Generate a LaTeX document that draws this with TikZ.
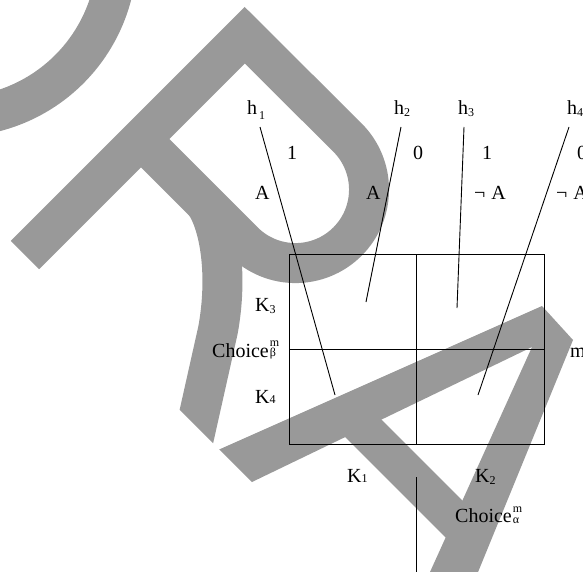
\documentclass[tikz,border=0pt]{standalone}
\usepackage{fontspec}
\setmainfont{Liberation Serif}
% small index set on the baseline, lowered, or raised
\newcommand\idx[1]{{\fontsize{12}{12}\selectfont #1}}
\newcommand\lowidx[2]{\raisebox{-#1}{\fontsize{12}{12}\selectfont #2}}
\newcommand\choicemark[3]{Choice\kern1pt\rlap{\raisebox{#1}{\fontsize{12}{12}\selectfont m}}\raisebox{#2}{\fontsize{12}{12}\selectfont #3}}
\begin{document}
\begin{tikzpicture}[x=1pt,y=-1pt,
    lbl/.style={anchor=base west,inner sep=0pt,font=\fontsize{20}{20}\selectfont},
    rule/.style={line width=0.9pt,black}]
\definecolor{wm}{gray}{0.6}
\useasboundingbox (0,0) rectangle (583,572);

% ---- watermark strokes (cut off along the common baseline) ----
\begin{scope}
  \clip (-50,180) -- (800,1030) -- (800,-50) -- (-50,-50) -- cycle;
  % bowl of the D
  \draw[wm,line width=40pt] (-46,-46) ++(-5:163) arc[start angle=-5,end angle=95,radius=163];
  % R: stem, top bar, bowl, middle bar
  \draw[wm,line width=40pt,line join=miter]
    (25,255) -- (244.75,35.25) -- (347.5,137.6)
    arc[start angle=-45,end angle=135,radius=73.5] -- (141,139);
  % R: leg
  \draw[wm,line width=40pt] (205,203) .. controls (220,225) and (228,275) .. (218,330) -- (190,455);
  % A: both legs
  \fill[wm] (201.8,457.2) -- (542,306) -- (573,340) -- (466.6,600)
    -- (417.3,600) -- (532,347) -- (224,495.5) -- cycle;
  % A: crossbar
  \draw[wm,line width=38pt] (348.5,413.5) -- (470.8,535.9);
\end{scope}

% ---- labels ----
\node[lbl] (h1) at (247,115) {h\kern2pt\lowidx{5pt}{1}};
\node[lbl] (h2) at (394,115) {h\lowidx{2pt}{2}};
\node[lbl] (h3) at (458,115) {h\lowidx{2pt}{3}};
\node[lbl] (h4) at (567,115) {h\lowidx{2pt}{4}};

\node[lbl] (v1) at (287,160) {1};
\node[lbl] (v2) at (413,160) {0};
\node[lbl] (v3) at (482,160) {1};
\node[lbl] (v4) at (577,160) {0};

\node[lbl] (a1) at (255,200) {A};
\node[lbl] (a2) at (366,200) {A};
\node[lbl] (a3) at (474,200) {¬\kern6pt A};
\node[lbl] (a4) at (556,200) {¬\kern6pt A};

\node[lbl] (k3) at (255,311) {K\lowidx{2pt}{3}};
\node[lbl] (k4) at (255,403) {K\idx{4}};
\node[lbl] (k1) at (347,482) {K\idx{1}};
\node[lbl] (k2) at (475,482) {K\lowidx{2pt}{2}};

\node[lbl] (cb) at (212,357) {\choicemark{11pt}{1pt}{β}};
\node[lbl] (ca) at (455,522) {\choicemark{10pt}{-1pt}{α}};
\node[lbl] (mm) at (570,357) {m};

% ---- table of the four cells ----
\coordinate (tl) at (289,254);
\coordinate (br) at (544,444);
\coordinate (ct) at (416.5,254);
\coordinate (cb2) at (416.5,444);
\coordinate (ml) at (289,349);
\coordinate (mr) at (544,349);
\draw[rule] (tl) rectangle (br);
\draw[rule] (ct) -- (cb2);
\draw[rule] (ml) -- (mr);

% divider below the table
\coordinate (dt) at (416.5,477);
\coordinate (db) at (416.5,580);
\draw[rule] (dt) -- (db);

% pointers from the labels into the cells
\coordinate (p1) at (260,127);  \coordinate (c1) at (335,395);
\coordinate (p2) at (401,127);  \coordinate (c2) at (366,302);
\coordinate (p3) at (464,127);  \coordinate (c3) at (457,308);
\coordinate (p4) at (569,127);  \coordinate (c4) at (478,395);
\draw[rule] (p1) -- (c1);
\draw[rule] (p2) -- (c2);
\draw[rule] (p3) -- (c3);
\draw[rule] (p4) -- (c4);
\end{tikzpicture}
\end{document}
